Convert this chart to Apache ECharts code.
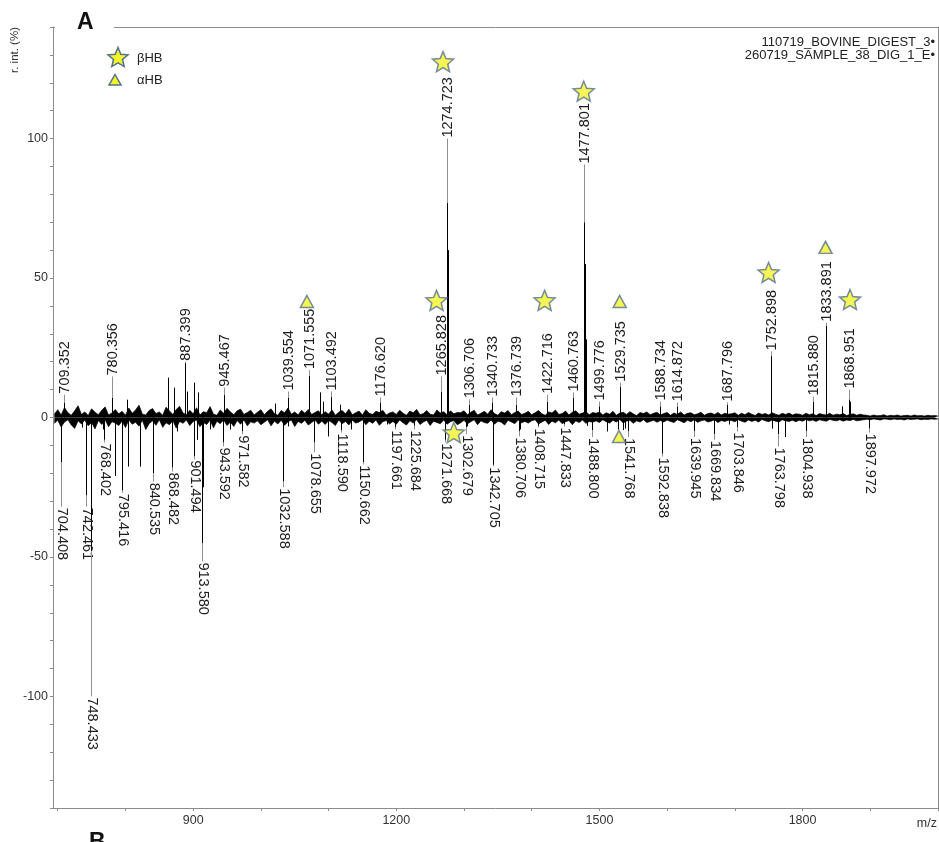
<!DOCTYPE html>
<html><head><meta charset="utf-8">
<script src="https://cdn.jsdelivr.net/npm/echarts@6/dist/echarts.min.js"></script>
<style>html,body{margin:0;padding:0;background:#fff}#c{width:939px;height:842px}</style>
</head><body><div id="c"></div>
<script>
// ---- axis ticks ----
const xTickLabels = [900, 1200, 1500, 1800];
const xMinorTicks = [700, 800, 900, 1000, 1100, 1200, 1300, 1400, 1500, 1600, 1700, 1800, 1900, 2000];
const yTickLabels = [-100, -50, 0, 50, 100];
const yMinorTicks = [-140,-130,-120,-110,-100,-90,-80,-70,-60,-50,-40,-30,-20,-10,0,10,20,30,40,50,60,70,80,90,100,110,120,130,140];

// ---- labelled peaks, upper spectrum (110719_BOVINE_DIGEST_3) ----
const posLabelMz   = [709.352, 780.356, 887.399, 945.467, 1039.554, 1071.555, 1103.492, 1176.620, 1265.828, 1274.723, 1306.706, 1340.733, 1376.739, 1422.716, 1460.763, 1477.801, 1499.776, 1529.735, 1588.734, 1614.872, 1687.796, 1752.898, 1815.880, 1833.891, 1868.951];
const posLabelPeak = [5.4, 7, 19.5, 8.2, 7, 15, 7.5, 5.4, 9.3, 77, 4.5, 5.4, 4.6, 5.7, 7, 70, 4, 11, 4, 4, 4.5, 22, 5.7, 33, 6.5];
const posLabelAt   = [8.2, 14.7, 20, 10.7, 9.3, 17, 9.3, 7.2, 14.7, 100, 6.5, 7.2, 7.2, 8.2, 9, 90.7, 5.7, 12.5, 5.7, 5.4, 5.4, 23.7, 7.5, 34, 10];

// ---- labelled peaks, lower spectrum (260719_SAMPLE_38_DIG_1_E) ----
const negLabelMz   = [704.408, 742.461, 748.433, 768.402, 795.416, 840.535, 868.482, 901.494, 913.580, 943.592, 971.582, 1032.588, 1078.655, 1118.590, 1150.662, 1197.661, 1225.684, 1271.668, 1302.679, 1342.705, 1380.706, 1408.715, 1447.833, 1488.800, 1541.768, 1592.838, 1639.945, 1669.834, 1703.846, 1763.798, 1804.938, 1897.972];
const negLabelPeak = [-16, -28, -48, -8, -26, -20, -18, -14, -45, -9, -5, -23, -9, -4.5, -16, -3.5, -3, -8, -3.5, -17, -5, -3, -2.5, -4.5, -5, -13, -5, -6, -3.5, -6, -5, -4];
const negLabelAt   = [-32, -32, -100, -9, -27, -23, -19.4, -15, -51.6, -10.4, -6, -25, -12.5, -5.4, -16.8, -4.3, -4.3, -9, -6, -17.5, -6.8, -3.6, -3.2, -7, -7, -14, -7, -8, -5, -10.4, -7, -5.4];

// ---- unlabelled peaks ----
const posPeakMz  = [802, 862.7, 871.6, 890.8, 901, 907, 1020.7, 1087, 1091.5, 1116.6, 1275.7, 1276.7, 1478.8, 1479.8, 1753.9, 1834.9, 1857.6, 1869.95];
const posPeakInt = [6.4, 14.3, 10.7, 9.3, 12.5, 9, 5, 9, 5.7, 4.6, 60, 30, 55, 28, 12, 22, 4, 5.7];
const negPeakMz  = [705.4, 735.8, 749.4, 766.8, 784.5, 803.7, 821.4, 876, 905.5, 914.6, 924.7, 954, 1039.9, 1099, 1133, 1186, 1304, 1382, 1481, 1510.7, 1527, 1535, 1538, 1692, 1755, 1773.5];
const negPeakInt = [-8, -3.6, -30, -4.3, -21, -17.6, -17.6, -5, -8, -25, -4.3, -4.3, -3.2, -6.8, -4.3, -2.5, -3.2, -4.3, -3, -5, -4.3, -4.5, -4, -2.5, -4, -7];

// ---- baseline noise band (estimated thickness), every 5 m/z from 695 ----
const noiseStartMz = 695, noiseStepMz = 5;
const posNoise = [
1.2,2.8,0.9,3.6,1.7,0.8,2.4,4.2,1.1,2.0,0.7,3.1,1.9,1.0,2.6,3.8,0.9,1.6,2.9,1.3,
2.2,0.8,3.4,1.5,2.7,4.4,1.2,0.9,2.5,3.2,1.4,2.0,0.8,3.7,2.3,1.1,2.9,4.0,1.6,1.0,
2.6,1.3,3.5,0.9,2.1,1.7,3.9,1.2,0.8,2.7,1.5,3.3,2.0,1.0,2.4,3.0,1.1,1.8,2.6,0.9,
1.9,2.8,1.0,2.2,3.1,1.4,0.8,2.5,1.7,3.4,1.2,2.0,0.9,2.6,1.5,2.9,1.1,1.8,2.4,1.0,
2.1,1.2,2.7,0.8,1.9,2.5,1.3,3.0,1.0,1.7,2.3,0.9,2.8,1.5,1.1,2.2,1.8,2.6,0.9,1.6,
2.0,1.1,2.6,1.5,0.8,2.3,1.7,2.9,1.0,1.4,2.5,1.2,0.9,2.7,1.6,2.1,1.0,2.4,1.3,1.8,
1.7,2.4,1.0,1.9,2.6,0.9,1.5,2.2,1.2,2.8,1.4,0.8,2.1,1.6,2.5,1.0,1.8,2.3,1.1,1.5,
2.2,1.0,1.7,2.5,1.3,0.8,2.0,1.6,2.7,1.1,1.4,2.3,0.9,1.9,2.4,1.2,1.6,2.1,1.0,1.8,
1.5,2.0,0.9,1.7,1.2,2.2,0.8,1.6,1.9,1.1,2.1,1.3,0.7,1.8,1.4,2.0,1.0,1.5,1.9,0.9,
1.4,1.8,0.8,1.6,1.1,2.0,0.9,1.5,1.7,1.0,1.3,1.9,0.8,1.4,1.6,1.1,1.8,0.9,1.5,1.2,
1.3,1.7,0.8,1.5,1.0,1.8,1.2,0.7,1.6,1.1,1.4,0.9,1.7,1.2,0.8,1.5,1.1,1.6,0.9,1.3,
1.2,0.8,1.5,1.0,1.3,0.7,1.4,1.1,0.9,1.5,0.8,1.2,1.0,1.4,0.7,1.1,1.3,0.8,1.2,0.9,
0.8,0.5,0.9,0.6,0.7,1.0,0.5,0.8,0.6,0.9,0.5,0.7,0.8,0.5,0.9,0.6,0.7,0.5,0.8,0.6,
0.7,0.5];
const negNoise = [
-2.1,-1.0,-3.4,-1.6,-0.8,-2.7,-3.9,-1.2,-2.3,-0.9,-3.0,-1.8,-4.1,-1.1,-2.5,-0.8,-3.3,-1.5,-2.0,-2.9,
-1.3,-3.6,-0.9,-2.4,-1.7,-3.1,-1.0,-4.3,-2.2,-1.2,-2.8,-0.8,-3.5,-1.9,-2.6,-1.1,-3.8,-1.4,-2.1,-0.9,
-2.9,-1.4,-0.9,-3.3,-1.8,-2.5,-1.0,-3.7,-1.3,-2.2,-0.8,-2.9,-1.6,-3.2,-1.1,-2.4,-0.9,-3.0,-1.5,-2.0,
-1.2,-2.6,-1.7,-0.8,-3.0,-1.3,-2.3,-1.0,-2.8,-1.5,-0.9,-3.2,-1.4,-2.1,-1.0,-2.7,-1.8,-0.9,-2.4,-1.3,
-2.5,-1.1,-1.8,-2.9,-0.9,-2.2,-1.4,-2.7,-1.0,-2.0,-1.6,-0.8,-2.6,-1.3,-2.1,-0.9,-2.8,-1.5,-1.1,-2.3,
-1.4,-2.4,-0.9,-1.9,-2.7,-1.2,-2.0,-0.8,-2.5,-1.6,-1.0,-2.9,-1.3,-1.8,-2.2,-0.9,-2.4,-1.5,-1.1,-2.6,
-1.9,-1.0,-2.3,-1.5,-0.8,-2.6,-1.2,-1.8,-2.1,-0.9,-2.4,-1.3,-1.7,-2.7,-1.0,-1.6,-2.2,-0.9,-1.9,-1.4,
-2.0,-1.2,-0.8,-2.3,-1.6,-1.0,-2.5,-1.3,-1.9,-0.9,-2.2,-1.5,-1.1,-2.6,-1.2,-1.8,-0.9,-2.1,-1.4,-1.7,
-1.2,-1.8,-0.8,-1.5,-2.0,-1.0,-1.6,-0.7,-1.9,-1.3,-1.0,-2.1,-1.2,-1.6,-0.8,-1.8,-1.4,-1.0,-1.7,-1.1,
-1.6,-0.9,-1.4,-1.8,-0.8,-1.3,-1.9,-1.0,-1.5,-0.8,-1.7,-1.2,-0.9,-1.6,-1.3,-0.8,-1.8,-1.1,-1.4,-1.0,
-1.1,-1.5,-0.8,-1.3,-1.7,-0.9,-1.4,-1.0,-1.6,-0.7,-1.2,-1.5,-0.9,-1.3,-1.6,-0.8,-1.2,-1.4,-1.0,-1.5,
-1.0,-1.3,-0.7,-1.2,-0.9,-1.4,-0.8,-1.1,-1.3,-0.7,-1.0,-1.2,-0.8,-1.3,-0.9,-1.1,-0.7,-1.2,-1.0,-0.8,
-0.6,-0.8,-0.5,-0.7,-0.9,-0.5,-0.6,-0.8,-0.5,-0.7,-0.6,-0.9,-0.5,-0.7,-0.6,-0.5,-0.8,-0.6,-0.7,-0.5,
-0.6,-0.5];

// ---- annotation markers ----
const betaMz  = [1259.4, 1269, 1419, 1476.8, 1749.8, 1870, 1284.9];
const betaAt  = [42, 127.6, 42, 117, 52, 42.3, -5.4];
const alphaMz = [1068, 1529.9, 1833.9, 1528.9];
const alphaAt = [41.6, 41.6, 61, -6.8];

const seriesNames = ['110719_BOVINE_DIGEST_3', '260719_SAMPLE_38_DIG_1_E'];
const markerNames = ['βHB', 'αHB'];

// ---- build tables ----
const zip = (a, b) => a.map((v, i) => [v, b[i]]);
const stickData = zip(posLabelMz, posLabelPeak).concat(zip(negLabelMz, negLabelPeak), zip(posPeakMz, posPeakInt), zip(negPeakMz, negPeakInt));
const labelData = posLabelMz.map((m, i) => [m, posLabelPeak[i], posLabelAt[i]])
  .concat(negLabelMz.map((m, i) => [m, negLabelPeak[i], negLabelAt[i]]));
const posNoiseData = posNoise.map((v, i) => [noiseStartMz + i * noiseStepMz, v]);
const negNoiseData = negNoise.map((v, i) => [noiseStartMz + i * noiseStepMz, v]);

const FONT = '"Liberation Sans", Arial, Helvetica, sans-serif';
const STAR = 'path://M50,0L63.2,31.8L97.6,34.5L71.4,57L79.4,90.5L50,72.5L20.6,90.5L28.6,57L2.4,34.5L36.8,31.8Z';
const YEL = '#f3f32a', BORD = '#52708e';

function stickItem(params, api) {
  const p0 = api.coord([api.value(0), 0]);
  const p1 = api.coord([api.value(0), api.value(1)]);
  const x = Math.round(p0[0]) + 0.5;
  return { type: 'line', shape: { x1: x, y1: p0[1], x2: x, y2: p1[1] }, style: { stroke: '#000', lineWidth: 1 } };
}
function labelItem(params, api) {
  const mz = api.value(0), pk = api.value(1), at = api.value(2);
  const p0 = api.coord([mz, pk]);
  const p1 = api.coord([mz, at]);
  const x = Math.round(p0[0]) + 0.5;
  const up = at > 0;
  const ch = [];
  if (Math.abs(at) > Math.abs(pk)) {
    ch.push({ type: 'line', shape: { x1: x, y1: p0[1], x2: x, y2: p1[1] }, style: { stroke: '#8f8f8f', lineWidth: 1 } });
  }
  ch.push({ type: 'text', x: x, y: p1[1] + (up ? -1 : 1), rotation: up ? Math.PI / 2 : -Math.PI / 2,
    style: { text: mz.toFixed(3), x: 0, y: 0, textAlign: 'left', textVerticalAlign: 'middle', fill: '#1c1c1c', font: '14.5px ' + FONT } });
  return { type: 'group', children: ch };
}
function starPts(cx, cy, r) {
  const pts = [];
  for (let k = 0; k < 10; k++) {
    const a = -Math.PI / 2 + k * Math.PI / 5;
    const rr = k % 2 ? r * 0.45 : r;
    pts.push([cx + rr * Math.cos(a), cy + rr * Math.sin(a) + r * 0.1]);
  }
  return pts;
}
const noiseSeries = (name, data) => ({
  name: name, type: 'line', data: data, symbol: 'none', silent: true, z: 2,
  lineStyle: { color: '#000', width: 0.7 },
  areaStyle: { color: '#000', opacity: 1, origin: 0 }
});

const chart = echarts.init(document.getElementById('c'));
chart.setOption({
  animation: false,
  backgroundColor: '#fff',
  grid: { left: 53, right: 1, top: 27, bottom: 34 },
  xAxis: [{
    type: 'value', min: 693, max: 2000, position: 'bottom',
    axisLine: { show: true, onZero: false, lineStyle: { color: '#8c8c8c', width: 1 } },
    axisTick: { show: true, length: 3, customValues: xMinorTicks, lineStyle: { color: '#8c8c8c' } },
    axisLabel: { customValues: xTickLabels, formatter: v => String(v), fontSize: 12.5, color: '#333', margin: 6, fontFamily: FONT },
    splitLine: { show: false }
  }, {
    type: 'value', min: 693, max: 2000, position: 'top',
    axisLine: { show: true, onZero: false, lineStyle: { color: '#8c8c8c', width: 1 } },
    axisTick: { show: false }, axisLabel: { show: false }, splitLine: { show: false }
  }],
  yAxis: [{
    type: 'value', min: -140, max: 140, position: 'left',
    axisLine: { show: true, onZero: false, lineStyle: { color: '#8c8c8c', width: 1 } },
    axisTick: { show: true, length: 3, customValues: yMinorTicks, lineStyle: { color: '#8c8c8c' } },
    axisLabel: { customValues: yTickLabels, formatter: v => String(v), fontSize: 12.5, color: '#333', margin: 5, fontFamily: FONT },
    splitLine: { show: false }
  }, {
    type: 'value', min: -140, max: 140, position: 'right',
    axisLine: { show: true, onZero: false, lineStyle: { color: '#8c8c8c', width: 1 } },
    axisTick: { show: false }, axisLabel: { show: false }, splitLine: { show: false }
  }],
  series: [
    noiseSeries(seriesNames[0], posNoiseData),
    noiseSeries(seriesNames[1], negNoiseData),
    { name: 'peaks', type: 'custom', renderItem: stickItem, data: stickData, encode: { x: 0, y: 1 }, z: 3, silent: true },
    { name: 'labels', type: 'custom', renderItem: labelItem, data: labelData, encode: { x: 0, y: [1, 2] }, z: 4, silent: true },
    { name: markerNames[0], type: 'scatter', data: zip(betaMz, betaAt), symbol: STAR, symbolKeepAspect: true, symbolSize: 21,
      itemStyle: { color: YEL, borderColor: BORD, borderWidth: 1.5 }, z: 5 },
    { name: markerNames[1], type: 'scatter', data: zip(alphaMz, alphaAt), symbol: 'triangle', symbolSize: [13, 12],
      itemStyle: { color: YEL, borderColor: BORD, borderWidth: 1.5 }, z: 5 }
  ],
  graphic: [
    { type: 'rect', z: 100, shape: { x: 55, y: 22, width: 59, height: 9 }, style: { fill: '#fff' } },
    { type: 'text', z: 101, x: 77, y: 23, style: { text: 'A', font: 'bold 23px ' + FONT, fill: '#111', textAlign: 'left', textVerticalAlign: 'middle' } },
    { type: 'text', z: 101, x: 89, y: 843, style: { text: 'B', font: 'bold 23px ' + FONT, fill: '#111', textAlign: 'left', textVerticalAlign: 'middle' } },
    { type: 'text', z: 101, x: 15, y: 50, rotation: Math.PI / 2, style: { text: 'r. int. (%)', font: '11.5px ' + FONT, fill: '#333', textAlign: 'center', textVerticalAlign: 'middle' } },
    { type: 'text', z: 101, x: 937, y: 824, style: { text: 'm/z', font: '12.5px ' + FONT, fill: '#333', textAlign: 'right', textVerticalAlign: 'middle' } },
    { type: 'text', z: 101, x: 935, y: 42, style: { text: seriesNames[0] + '•', font: '13px ' + FONT, fill: '#222', textAlign: 'right', textVerticalAlign: 'middle' } },
    { type: 'text', z: 101, x: 935, y: 55, style: { text: seriesNames[1] + '•', font: '13px ' + FONT, fill: '#222', textAlign: 'right', textVerticalAlign: 'middle' } },
    { type: 'polygon', z: 101, shape: { points: starPts(118, 57, 10.5) }, style: { fill: YEL, stroke: BORD, lineWidth: 1.5 } },
    { type: 'polygon', z: 101, shape: { points: [[115, 74.5], [121, 85], [109, 85]] }, style: { fill: YEL, stroke: BORD, lineWidth: 1.5 } },
    { type: 'text', z: 101, x: 137, y: 58, style: { text: markerNames[0], font: '13px ' + FONT, fill: '#222', textAlign: 'left', textVerticalAlign: 'middle' } },
    { type: 'text', z: 101, x: 137, y: 80, style: { text: markerNames[1], font: '13px ' + FONT, fill: '#222', textAlign: 'left', textVerticalAlign: 'middle' } }
  ]
});
</script>
</body></html>
